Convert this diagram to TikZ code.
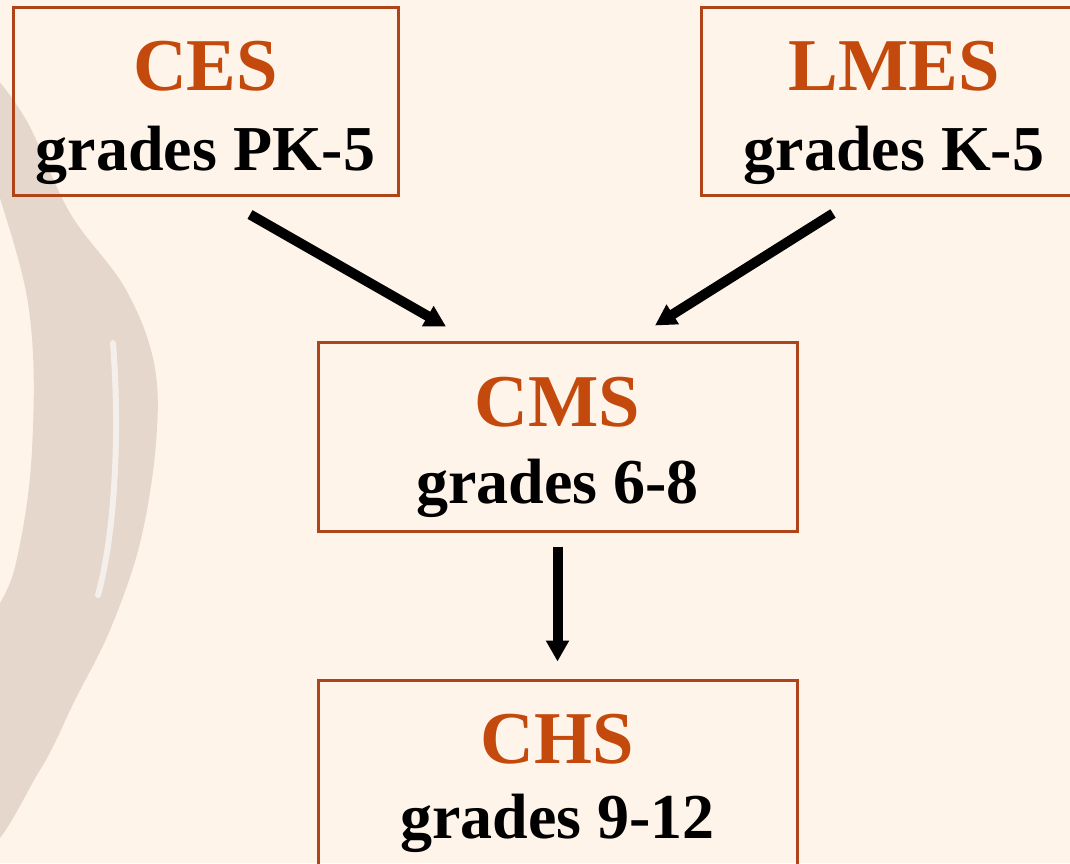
\documentclass[tikz,border=0pt]{standalone}
\usepackage{fontspec}
\setmainfont{Liberation Serif}
\usetikzlibrary{arrows.meta}
\definecolor{slidebg}{HTML}{FEF4E9}
\definecolor{swirl}{HTML}{8E7468}
\definecolor{rust}{HTML}{C4490C}
\definecolor{frame}{HTML}{AE4418}
\tikzset{
	school/.style={draw=frame, line width=3pt, minimum width=385pt, minimum height=188pt, inner sep=0pt},
	name tag/.style={anchor=base, text=rust, inner sep=0pt, font=\fontsize{74.5}{74.5}\selectfont\bfseries},
	grade tag/.style={anchor=base, text=black, inner sep=0pt, font=\fontsize{64}{64}\selectfont\bfseries},
	feeds/.style={line width=10pt, -{Triangle[width=22pt,length=21pt]}}
}

\begin{document}
\begin{tikzpicture}[x=1pt, y=1pt]
			%%%%% START %%%%%
			
			\useasboundingbox (0, 0) rectangle (1070, 863);
			\clip (0, 0) rectangle (1070, 863);
			\fill[slidebg] (0, 0) rectangle (1070, 863);
			
			% swirl on the left
			\fill[swirl, opacity=0.22] plot[smooth cycle, tension=0.6] coordinates {(-15, 790) (25, 745)
				(70, 650) (125, 575) (154, 500) (156, 420) (140, 320) (110, 233) (75, 163) (40, 93) (-15, 20)
				(-15, 210) (15, 296) (32, 413) (28, 560) (-15, 720)};
			\draw[white, line width=6pt, opacity=0.6, line cap=round] (113, 520) .. controls (120, 430) and (115, 330) .. (98, 268);
			
			% schools
			\node[school] (ces) at (205.5, 761) {};
			\node[school] (lmes) at (894, 761) {};
			\node[school, minimum width=479pt] (cms) at (557.5, 426) {};
			\node[school, minimum width=479pt] (chs) at (557.5, 89) {};
			
			\node[name tag] (ces name) at ([yshift=-84]ces.north) {CES};
			\node[grade tag] (ces grades) at ([yshift=-164]ces.north) {grades PK-5};
			
			\node[name tag] (lmes name) at ([yshift=-84]lmes.north) {LMES};
			\node[grade tag] (lmes grades) at ([yshift=-164]lmes.north) {grades K-5};
			
			\node[name tag] (cms name) at ([yshift=-85]cms.north) {CMS};
			\node[grade tag] (cms grades) at ([yshift=-162]cms.north) {grades 6-8};
			
			\node[name tag] (chs name) at ([yshift=-85]chs.north) {CHS};
			\node[grade tag] (chs grades) at ([yshift=-160]chs.north) {grades 9-12};
			
			% arrows
			\draw[feeds] ([shift={(44.5,-17)}]ces.south) -- ([shift={(-111.5,15)}]cms.north);
			\draw[feeds] ([shift={(-61,-16)}]lmes.south) -- ([shift={(97.5,16)}]cms.north);
			\draw[feeds] ([yshift=-14]cms.south) -- ([yshift=17]chs.north);
			
			%%%%% END %%%%%
\end{tikzpicture}
\end{document}
